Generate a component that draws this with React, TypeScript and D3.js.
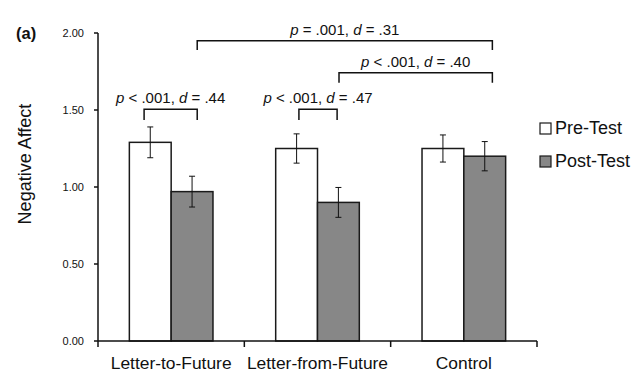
import React from "react";
import * as d3 from "d3";

const categories = ["Letter-to-Future", "Letter-from-Future", "Control"];
const series = ["Pre-Test", "Post-Test"];
const preTest = [1.29, 1.25, 1.25];
const postTest = [0.97, 0.9, 1.2];
const preErr = [0.1, 0.095, 0.088];
const postErr = [0.1, 0.097, 0.095];
const yTicks = [0, 0.5, 1, 1.5, 2];

// comparisons drawn as brackets above the bars
const bracketFrom = ["Letter-to-Future", "Letter-from-Future", "Letter-to-Future", "Letter-from-Future"];
const bracketTo = ["Letter-to-Future", "Letter-from-Future", "Control", "Control"];
const bracketOp = ["<", "<", "=", "<"];
const bracketP = [".001", ".001", ".001", ".001"];
const bracketD = [".44", ".47", ".31", ".40"];

// layout of the brackets (fraction of band, level in value units)
const bracketLayout = [
  { a: 0.315, b: 0.678, level: 1.505, drop: 0.07 },
  { a: 0.373, b: 0.634, level: 1.505, drop: 0.07 },
  { a: 0.678, b: 0.695, level: 1.95, drop: 0.06 },
  { a: 0.647, b: 0.695, level: 1.742, drop: 0.065 },
];

const W = 640;
const H = 387;
const font = "'Liberation Sans', Arial, sans-serif";

export default function App() {
  const x = d3.scaleBand().domain(categories).range([98, 537]).paddingInner(0).paddingOuter(0);
  const xs = d3.scaleBand().domain(series).range([0, x.bandwidth()]).paddingInner(0).paddingOuter(0.75);
  const y = d3.scaleLinear().domain([0, 2]).range([341, 33]);

  const bars = categories.flatMap((c, i) => [
    { c, s: "Pre-Test", v: preTest[i], e: preErr[i], fill: "#ffffff" },
    { c, s: "Post-Test", v: postTest[i], e: postErr[i], fill: "#878787" },
  ]);

  const xTicks = [...categories.map((c) => x(c)!), 537];

  return (
    <svg width={W} height={H} style={{ position: "absolute", left: 0, top: 0, background: "#fff" }} fontFamily={font}>
      <text x={16} y={39} fontSize={16.5} fontWeight="bold" fill="#111">(a)</text>

      {/* y axis */}
      <line x1={98} x2={98} y1={y(2)} y2={y(0)} stroke="#111" strokeWidth={1.5} />
      {yTicks.map((t) => (
        <g key={t}>
          <line x1={94} x2={98} y1={y(t)} y2={y(t)} stroke="#111" strokeWidth={1.5} />
          <text x={84} y={y(t) + 3.8} fontSize={11} textAnchor="end" fill="#111">{d3.format(".2f")(t)}</text>
        </g>
      ))}
      <text transform={`translate(31,164) rotate(-90)`} fontSize={18} textAnchor="middle" fill="#111">Negative Affect</text>

      {/* bars */}
      {bars.map((b, i) => {
        const bx = x(b.c)! + xs(b.s)!;
        const cx = bx + xs.bandwidth() / 2;
        return (
          <g key={i}>
            <rect x={bx} y={y(b.v)} width={xs.bandwidth()} height={y(0) - y(b.v)} fill={b.fill} stroke="#1a1a1a" strokeWidth={1.5} />
            <line x1={cx} x2={cx} y1={y(b.v + b.e)} y2={y(b.v - b.e)} stroke="#111" strokeWidth={1} />
            <line x1={cx - 3} x2={cx + 3} y1={y(b.v + b.e)} y2={y(b.v + b.e)} stroke="#111" strokeWidth={1} />
            <line x1={cx - 3} x2={cx + 3} y1={y(b.v - b.e)} y2={y(b.v - b.e)} stroke="#111" strokeWidth={1} />
          </g>
        );
      })}

      {/* x axis */}
      <line x1={98} x2={537} y1={y(0)} y2={y(0)} stroke="#111" strokeWidth={1.5} />
      {xTicks.map((t, i) => (
        <line key={i} x1={t} x2={t} y1={y(0)} y2={y(0) + 6} stroke="#111" strokeWidth={1.5} />
      ))}
      {categories.map((c) => (
        <text key={c} x={x(c)! + x.bandwidth() / 2} y={369} fontSize={17.4} textAnchor="middle" fill="#111">{c}</text>
      ))}

      {/* brackets */}
      {bracketFrom.map((f, i) => {
        const L = bracketLayout[i];
        const x1 = x(f)! + L.a * x.bandwidth();
        const x2 = x(bracketTo[i])! + L.b * x.bandwidth();
        const yl = y(L.level);
        const yd = y(L.level - L.drop);
        return (
          <g key={i}>
            <path d={`M${x1},${yd}V${yl}H${x2}V${yd}`} fill="none" stroke="#111" strokeWidth={1.5} />
            <text x={(x1 + x2) / 2} y={yl - 6} fontSize={15} textAnchor="middle" fill="#111">
              <tspan fontStyle="italic">p</tspan>
              {` ${bracketOp[i]} ${bracketP[i]}, `}
              <tspan fontStyle="italic">d</tspan>
              {` = ${bracketD[i]}`}
            </text>
          </g>
        );
      })}

      {/* legend */}
      {series.map((s, i) => (
        <g key={s}>
          <rect x={540} y={123 + i * 33} width={11} height={11} fill={i === 0 ? "#ffffff" : "#878787"} stroke="#1a1a1a" strokeWidth={1.2} />
          <text x={555} y={134 + i * 33} fontSize={18} fill="#111">{s}</text>
        </g>
      ))}
    </svg>
  );
}
